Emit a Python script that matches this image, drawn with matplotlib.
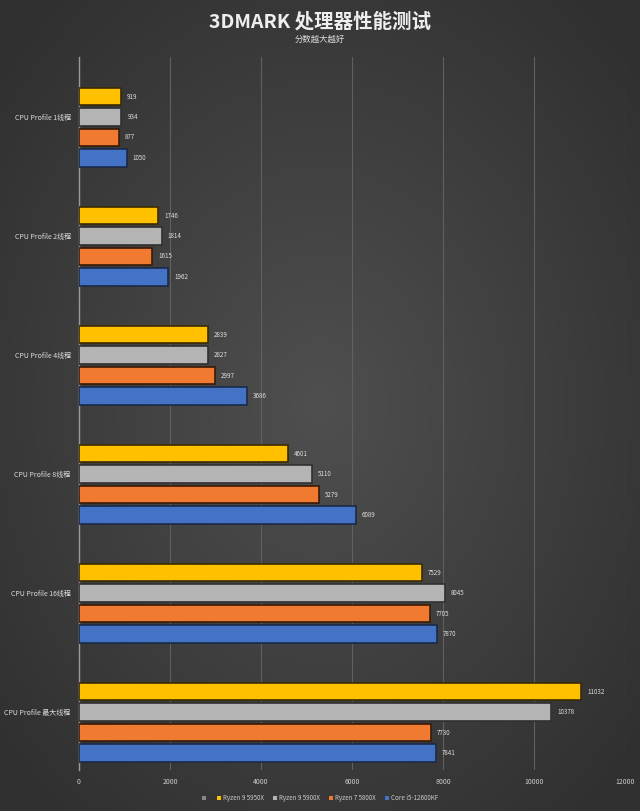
import numpy as np
import matplotlib
matplotlib.use("Agg")
import matplotlib.pyplot as plt
from matplotlib.patches import Patch

plt.rcParams['font.family'] = ['Noto Sans CJK SC', 'DejaVu Sans']

categories = ["CPU Profile 1线程", "CPU Profile 2线程", "CPU Profile 4线程",
              "CPU Profile 8线程", "CPU Profile 16线程", "CPU Profile 最大线程"]
series_names = ["Ryzen 9 5950X", "Ryzen 9 5900X", "Ryzen 7 5800X", "Core i5-12600KF"]
r9_5950x = [919, 1746, 2839, 4601, 7529, 11032]
r9_5900x = [934, 1814, 2827, 5110, 8045, 10378]
r7_5800x = [877, 1615, 2997, 5279, 7705, 7730]
i5_12600kf = [1050, 1962, 3686, 6089, 7870, 7841]
series = [r9_5950x, r9_5900x, r7_5800x, i5_12600kf]
colors = ["#FFC000", "#B4B4B4", "#F07A30", "#4472C4"]
edges = ["#3a2c00", "#303030", "#3a1a08", "#1a2a4a"]
xticks = [0, 2000, 4000, 6000, 8000, 10000, 12000]

fig = plt.figure(figsize=(6.4, 8.11), dpi=100)

# dark radial background, lighter in the middle
bg = fig.add_axes([0, 0, 1, 1])
yy, xx = np.mgrid[-1:1:400j, -1:1:320j]
r = np.clip(np.sqrt(xx ** 2 + yy ** 2) / 1.3, 0, 1)
shade = 0.31 - 0.12 * r
bg.imshow(np.dstack([shade] * 3), aspect="auto", extent=[0, 1, 0, 1])
bg.axis("off")

ax = fig.add_axes([0.1234, 0.0506, 0.8532, 0.8791])
ax.patch.set_alpha(0)

step = 0.172
h = 0.145
idx = np.arange(len(categories))
for j, vals in enumerate(series):
    ypos = idx + (j - 1.5) * step
    ax.barh(ypos, vals, height=h, color=colors[j], edgecolor=edges[j], linewidth=1.2, zorder=3)
    for y, v in zip(ypos, vals):
        ax.text(v + 130, y, str(v), va="center", ha="left", fontsize=4.5, color="#dddddd", zorder=4)

ax.set_xlim(0, 12000)
ax.set_ylim(5.40, -0.59)
ax.set_xticks(xticks)
ax.set_xticklabels([str(t) for t in xticks], fontsize=5, color="#cccccc")
ax.set_yticks(idx - 0.5 * step)
ax.set_yticklabels(categories, fontsize=5, color="#dddddd")
ax.tick_params(length=0, pad=6)
ax.grid(axis="x", color="#606060", linewidth=0.8, zorder=0)
for s in ["top", "right", "bottom"]:
    ax.spines[s].set_visible(False)
ax.spines["left"].set_color("#9a9a9a")
ax.spines["left"].set_linewidth(1.0)

fig.text(0.5, 0.973, "3DMARK 处理器性能测试", ha="center", va="center",
         fontsize=14, fontweight="bold", color="#eeeeee")
fig.text(0.5, 0.951, "分数越大越好", ha="center", va="center", fontsize=6, color="#dddddd")

handles = [Patch(facecolor="#888888", edgecolor="none")]
handles += [Patch(facecolor=c, edgecolor="none") for c in colors]
labels = [""] + series_names
fig.legend(handles, labels, loc="center", bbox_to_anchor=(0.5, 0.016), ncol=5,
           frameon=False, fontsize=4.5, labelcolor="#cccccc",
           handlelength=0.6, handleheight=0.6, handletextpad=0.3, columnspacing=1.5)

fig.savefig("out.png", dpi=100)
